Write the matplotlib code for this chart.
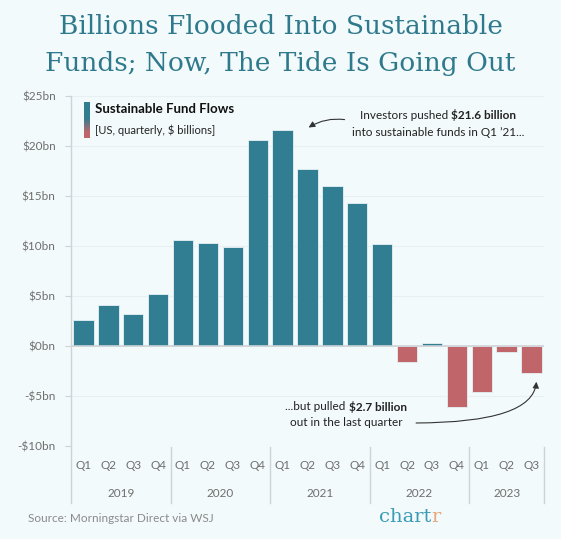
import numpy as np
import matplotlib
matplotlib.use("Agg")
import matplotlib.pyplot as plt
from matplotlib.lines import Line2D

# data: US sustainable fund flows, $ billions per quarter
quarters = ["Q1", "Q2", "Q3", "Q4"] * 4 + ["Q1", "Q2", "Q3"]
years = ["2019", "2020", "2021", "2022", "2023"]
year_len = [4, 4, 4, 4, 3]
flows = [2.6, 4.1, 3.25, 5.2, 10.6, 10.3, 9.95, 20.6,
         21.6, 17.7, 16.0, 14.3, 10.25, -1.6, 0.35, -6.1,
         -4.6, -0.55, -2.7]
yticks = [-10, -5, 0, 5, 10, 15, 20, 25]
ytick_labels = ["-$10bn", "-$5bn", "$0bn", "$5bn", "$10bn", "$15bn", "$20bn", "$25bn"]

BG = "#F3FAFC"
TEAL = "#317D91"
RED = "#C0666A"
GREY = "#6E6E6E"
LINE = "#CDD3D6"
FONT = "Lato"

W, H = 561, 539
fig = plt.figure(figsize=(W / 100, H / 100), dpi=100, facecolor=BG)

def fx(px): return px / W
def fy(py): return 1 - py / H

# title
fig.text(0.5, fy(27), "Billions Flooded Into Sustainable", ha="center", va="center",
         fontsize=19, color="#2E7A8C", family="DejaVu Serif", weight="light")
fig.text(0.5, fy(63), "Funds; Now, The Tide Is Going Out", ha="center", va="center",
         fontsize=19, color="#2E7A8C", family="DejaVu Serif", weight="light")

ax = fig.add_axes([fx(71), fy(446), fx(544) - fx(71), fy(96) - fy(446)])
ax.set_facecolor(BG)
x = np.arange(len(flows))
cols = [TEAL if v >= 0 else RED for v in flows]
ax.bar(x, flows, width=0.82, color=cols, edgecolor="#E6F1F4", linewidth=0.6, zorder=3)
ax.set_xlim(-0.5, len(flows) - 0.5)
ax.set_ylim(-10, 25)
for s in ax.spines.values():
    s.set_visible(False)
ax.set_yticks(yticks)
ax.set_yticklabels(ytick_labels, family=FONT, fontsize=8.5, color=GREY)
ax.tick_params(axis="y", length=4, width=0.8, color=LINE, pad=7)
ax.set_xticks([])
ax.grid(axis="y", color="#E8F0F3", linewidth=0.8, zorder=0)
ax.axhline(0, color=LINE, linewidth=1.2, zorder=4)

# left spine running down through the category labels
xt = ax.get_xaxis_transform()
ax.add_line(Line2D([-0.5, -0.5], [-0.163, 1.0], transform=xt, color=LINE,
                   linewidth=1.0, clip_on=False))

# quarter and year labels
for i, q in enumerate(quarters):
    ax.text(i, -0.057, q, transform=xt, ha="center", va="center",
            family=FONT, fontsize=8.5, color=GREY)
start = 0
for yr, n in zip(years, year_len):
    ax.text(start + (n - 1) / 2, -0.137, yr, transform=xt, ha="center", va="center",
            family=FONT, fontsize=8.5, color=GREY)
    end = start + n - 0.5
    ax.add_line(Line2D([end, end], [-0.003, -0.163], transform=xt, color=LINE,
                       linewidth=1.0, clip_on=False))
    start += n

# legend: gradient swatch + text
lax = fig.add_axes([fx(84), fy(138), fx(90) - fx(84), fy(102) - fy(138)])
grad = np.linspace(0, 1, 100)
tc = np.array(matplotlib.colors.to_rgb(TEAL))
rc = np.array(matplotlib.colors.to_rgb(RED))
w = np.clip((grad - 0.45) / 0.4, 0, 1)[:, None]
img = (tc * (1 - w) + rc * w)[:, None, :]
lax.imshow(img, aspect="auto", extent=[0, 1, 1, 0])
lax.axis("off")
fig.text(fx(95), fy(109), "Sustainable Fund Flows", ha="left", va="center",
         family=FONT, fontsize=9.5, weight="bold", color="#111111")
fig.text(fx(95), fy(130), "[US, quarterly, $ billions]", ha="left", va="center",
         family=FONT, fontsize=8, color="#222222")


def rich_line(xc, y, parts, size=8.5):
    texts = [fig.text(0, y, s, weight=wt, family=FONT, fontsize=size,
                      color="#222222", va="center", ha="left") for s, wt in parts]
    r = fig.canvas.get_renderer()
    widths = [t.get_window_extent(r).width / fig.bbox.width for t in texts]
    x0 = xc - sum(widths) / 2
    for t, wd in zip(texts, widths):
        t.set_x(x0)
        x0 += wd


rich_line(fx(438), fy(115), [("Investors pushed ", "normal"), ("$21.6 billion", "bold")])
rich_line(fx(438), fy(132), [("into sustainable funds in Q1 \u201921...", "normal")])
rich_line(fx(346), fy(407), [("...but pulled ", "normal"), ("$2.7 billion", "bold")])
rich_line(fx(346), fy(423), [("out in the last quarter", "normal")])

ax.annotate("", xy=(8.95, 21.7), xytext=(10.6, 22.6),
            arrowprops=dict(arrowstyle="-|>", color="#333333", lw=0.8,
                            mutation_scale=9, connectionstyle="arc3,rad=0.2"))
ax.annotate("", xy=(18.2, -3.3), xytext=(13.25, -7.7),
            arrowprops=dict(arrowstyle="-|>", color="#333333", lw=0.8,
                            mutation_scale=9, connectionstyle="angle3,angleA=0,angleB=90"))

# footer
fig.text(fx(28), fy(519), "Source: Morningstar Direct via WSJ", ha="left", va="center",
         family=FONT, fontsize=8.5, color="#8A8A8A")
t1 = fig.text(fx(379), fy(517), "chart", ha="left", va="center",
              family="DejaVu Serif", fontsize=14, color="#3A9BB5")
r = fig.canvas.get_renderer()
bb = t1.get_window_extent(r)
fig.text(bb.x1 / fig.bbox.width, fy(517), "r", ha="left", va="center",
         family="DejaVu Serif", fontsize=14, color="#E8A877")

fig.savefig("out.png", dpi=100, facecolor=BG)
